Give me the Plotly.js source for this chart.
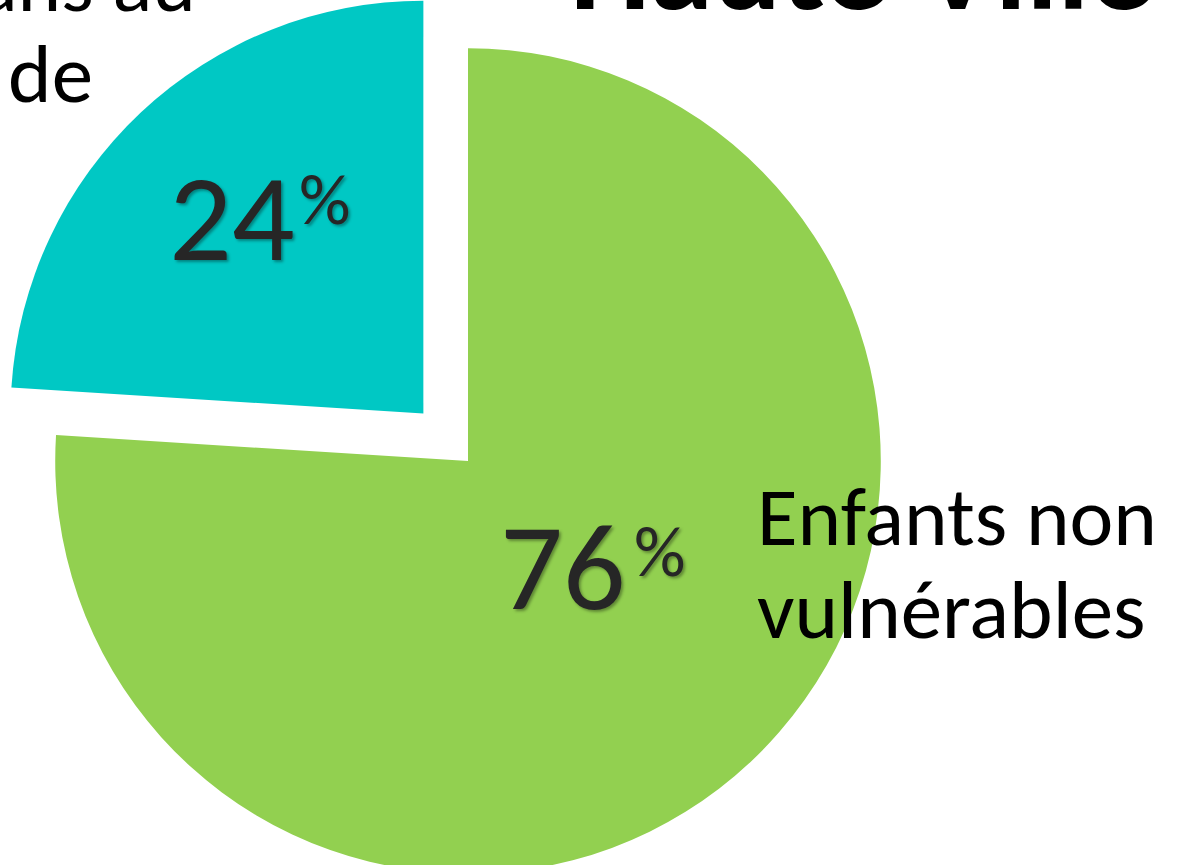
<!DOCTYPE html>
<html>
<head>
<meta charset="utf-8">
<script src="https://cdn.plot.ly/plotly-3.0.1.min.js"></script>
<style>
  html, body { margin: 0; padding: 0; width: 1186px; height: 865px; overflow: hidden; background: #ffffff; }
  #chart { position: absolute; left: -10px; top: -17px; width: 1300px; height: 956px; }
</style>
</head>
<body>
<div id="chart"></div>
<script>
// ---- data ----
const title = "Haute-Ville";
const labels = ["Enfants non vulnérables", "Enfants vulnérables dans au moins un domaine de développement"];
const values = [76, 24];
const colors = ["#92D050", "#00C8C4"];
const pulls = [0, 0.158];
const greenLabelLines = ["Enfants non", "vulnérables"];
const tealLabelLines = ["Enfants vulnérables dans au", "moins un domaine de"];

// ---- geometry of the (oversized) plotting div relative to the page ----
const DIV_W = 1300, DIV_H = 956, OFF_X = 10, OFF_Y = 17;
const px = x => (x + OFF_X) / DIV_W;
const py = y => 1 - (y + OFF_Y) / DIV_H;

const FONT = "Calibri, Carlito, Roboto, sans-serif";
const pctFont = { family: FONT, size: 124, color: "#262626", shadow: "2px 2px 3px rgba(0,0,0,0.35)" };
const pctSignFont = { family: FONT, size: 72, color: "#262626", shadow: "2px 2px 3px rgba(0,0,0,0.35)" };
const labelFont = { family: FONT, size: 83, color: "#000000" };

const trace = {
  type: "pie",
  labels: labels,
  values: values,
  sort: false,
  direction: "clockwise",
  rotation: 0,
  pull: pulls,
  marker: { colors: colors, line: { width: 0 } },
  textinfo: "none",
  hoverinfo: "label+percent",
  showlegend: false,
  domain: { x: [0, 956 / DIV_W], y: [0, 1] }
};

const annotations = [
  // percentage numbers
  { text: String(values[1]), x: px(232), y: py(217), xanchor: "center", yanchor: "middle", font: pctFont },
  { text: "%", x: px(325), y: py(199), xanchor: "center", yanchor: "middle", font: pctSignFont },
  { text: String(values[0]), x: px(563), y: py(566), xanchor: "center", yanchor: "middle", font: pctFont },
  { text: "%", x: px(659), y: py(551), xanchor: "center", yanchor: "middle", font: pctSignFont },
  // category labels
  { text: greenLabelLines[0], x: px(755), y: py(464), xanchor: "left", yanchor: "top", font: labelFont },
  { text: greenLabelLines[1], x: px(755), y: py(557), xanchor: "left", yanchor: "top", font: labelFont },
  { text: tealLabelLines[0], x: px(198), y: py(-70), xanchor: "right", yanchor: "top", font: labelFont },
  { text: tealLabelLines[1], x: px(95), y: py(21), xanchor: "right", yanchor: "top", font: labelFont },
  // title (mostly cropped off the top)
  { text: title, x: px(568), y: py(-114), xanchor: "left", yanchor: "top", font: { family: FONT, size: 127, color: "#000000", weight: 700 } }
].map(a => Object.assign({ xref: "paper", yref: "paper", showarrow: false }, a));

const layout = {
  width: DIV_W,
  height: DIV_H,
  margin: { l: 0, r: 0, t: 0, b: 0, pad: 0 },
  paper_bgcolor: "#ffffff",
  plot_bgcolor: "#ffffff",
  showlegend: false,
  annotations: annotations
};

Plotly.newPlot("chart", [trace], layout, { staticPlot: true, displayModeBar: false });
</script>
</body>
</html>
